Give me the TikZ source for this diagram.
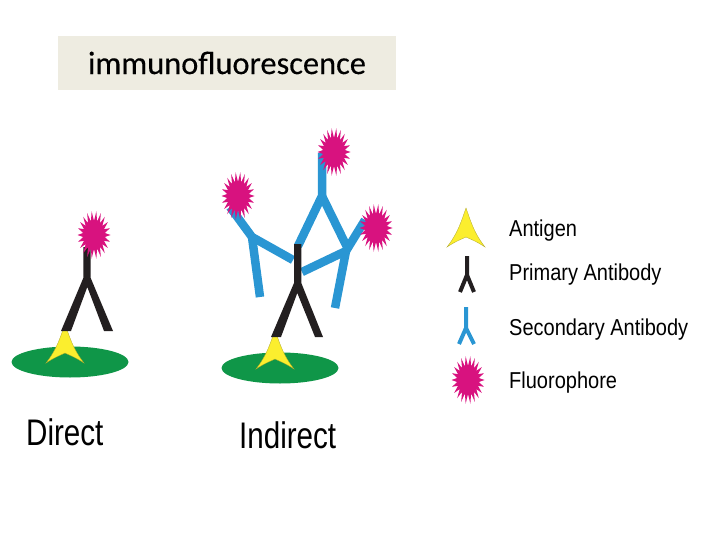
\documentclass[tikz,border=0pt]{standalone}
\usepackage{fontspec}
\setmainfont{Liberation Sans}
\newfontfamily\titlefont[FakeBold=0.25]{Carlito}
\usetikzlibrary{shapes.geometric}

\definecolor{titlegray}{HTML}{EEECE1}
\definecolor{plategreen}{HTML}{0F9648}
\definecolor{antigenyellow}{HTML}{FBEE2E}
\definecolor{fluopink}{HTML}{D8127F}
\definecolor{abblue}{HTML}{2A96D3}
\definecolor{abblack}{HTML}{231F20}

\tikzstyle{titlebox} = [rectangle, minimum width=338pt, minimum height=54pt, inner sep=0pt, fill=titlegray, text=black, font=\titlefont\fontsize{32.4}{34}\selectfont]
\tikzstyle{plate} = [ellipse, minimum width=117pt, minimum height=31pt, inner sep=0pt, fill=plategreen]
\tikzstyle{primary} = [fill=abblack]
\tikzstyle{secondary} = [line width=8.5pt, draw=abblue, line join=bevel]
\tikzstyle{keyprimary} = [line width=4pt, draw=abblack, line join=bevel]
\tikzstyle{keysecondary} = [line width=4pt, draw=abblue, line join=bevel]
\tikzstyle{caption} = [anchor=west, inner sep=0pt, xscale=.8, transform shape, font=\fontsize{37}{40}\selectfont, text=black]
\tikzstyle{keytext} = [anchor=west, inner sep=0pt, xscale=.87, transform shape, font=\fontsize{23}{25}\selectfont, text=black]

% antigen: tip at #1
\newcommand{\antigenat}[1]{
  \fill [antigenyellow, draw=abblack!35!antigenyellow, line width=.3pt, shift={(#1)}]
    (0,0) .. controls (5,14) and (8,25) .. (19,39)
    .. controls (10,33) and (4,31) .. (0,29)
    .. controls (-4,31) and (-10,33) .. (-19,39)
    .. controls (-8,25) and (-5,14) .. (0,0) -- cycle;
}
% fluorophore: 22 spikes round #1
\newcommand{\fluoroat}[1]{
  \fill [fluopink, shift={(#1)}] (16.5,0)
    \foreach \a in {0,...,21} {
      -- ({16.5*cos(\a*360/22)},{24*sin(\a*360/22)})
      -- ({11*cos((\a+.5)*360/22)},{14*sin((\a+.5)*360/22)})
    } -- cycle;
}

\begin{document}
\begin{tikzpicture}[x=1pt, y=-1pt]
\useasboundingbox (0,0) rectangle (720,540);

\node (title) [titlebox] at (227,63) {immunofluorescence};

% direct
\node (plateA) [plate] at (70,362) {};
\antigenat{65,324}
\fill [primary] (83.3,247) -- (90.7,247) -- (90.7,278) -- (113,331) -- (104,331) -- (87.3,287)
  -- (71,331) -- (61,331) -- (83.3,278) -- cycle;
\fluoroat{94,235}
\node (direct) [caption] at (26,432) {Direct};

% indirect
\node (plateB) [plate] at (280,368) {};
\antigenat{275,330}

% three secondaries on the primary
\coordinate (forkC) at (322,196);
\draw [secondary] (322,153) -- (forkC) -- (298,246);
\draw [secondary] (forkC) -- (347,247);
\coordinate (forkD) at (252,237);
\draw [secondary] (230,207) -- (forkD) -- (293,260);
\draw [secondary] (forkD) -- (260,297);
\coordinate (forkE) at (346,251);
\draw [secondary] (365,220) -- (forkE) -- (302,272);
\draw [secondary] (forkE) -- (335,308);
\fill [primary] (294,244) -- (301.3,244) -- (301.3,283) -- (323,337) -- (315,337) -- (297.3,293)
  -- (281,337) -- (271,337) -- (294,283) -- cycle;

\fluoroat{334,152}
\fluoroat{238,196}
\fluoroat{376,228}
\node (indirect) [caption] at (239,435) {Indirect};

% key
\antigenat{466,208}
\node (keyantigen) [keytext] at (509,231) {Antigen};
\coordinate (forkF) at (467,275);
\draw [keyprimary] (467,256) -- (forkF) -- (460,292);
\draw [keyprimary] (forkF) -- (474,292);
\node (keyprimary) [keytext] at (509,275) {Primary Antibody};
\coordinate (forkG) at (466,328);
\draw [keysecondary] (466,307) -- (forkG) -- (459,344);
\draw [keysecondary] (forkG) -- (474,344);
\node (keysecondary) [keytext] at (509,330) {Secondary Antibody};
\fluoroat{468,380}
\node (keyfluorotext) [keytext] at (509,383) {Fluorophore};

\end{tikzpicture}
\end{document}
